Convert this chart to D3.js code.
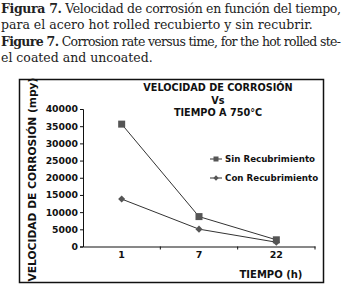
<!DOCTYPE html>
<html>
<head>
<meta charset="utf-8">
<script src="https://cdn.jsdelivr.net/npm/d3@7"></script>
<style>
  body { margin: 0; background: #fff; }
  svg { display: block; }
</style>
</head>
<body>
<script>
const tiempos = ['1', '7', '22'];
const sinRecub = [35600, 8700, 1950];
const conRecub = [13800, 5050, 1250];
const yTicks = [0, 5000, 10000, 15000, 20000, 25000, 30000, 35000, 40000];
const seriesNames = ['Sin Recubrimiento', 'Con Recubrimiento'];
const captionLines = [
  {b: 'Figura 7.', t: ' Velocidad de corrosión en función del tiempo,', full: true},
  {b: '', t: 'para el acero hot rolled recubierto y sin recubrir.', full: false},
  {b: 'Figure 7.', t: ' Corrosion rate versus time, for the hot rolled ste-', full: true},
  {b: '', t: 'el coated and uncoated.', full: false}
];

const w = 343, h = 288;
const svg = d3.select('body').append('svg').attr('width', w).attr('height', h);

// caption
captionLines.forEach(function(l, i) {
  const t = svg.append('text')
    .attr('x', 1).attr('y', 13 + i * 16.3)
    .style('font-family', '"DejaVu Serif", serif')
    .style('font-size', '12.5px')
    .style('fill', '#222');
  if (l.full) t.attr('textLength', 340).attr('lengthAdjust', 'spacing');
  if (l.b) t.append('tspan').style('font-weight', 'bold').text(l.b);
  t.append('tspan').text(l.t);
});

// chart frame
svg.append('rect')
  .attr('x', 19.5).attr('y', 79.5).attr('width', 304).attr('height', 203)
  .attr('fill', 'none').attr('stroke', '#111').attr('stroke-width', 1.5);

const bold = '"DejaVu Sans", Verdana, sans-serif';
const pLeft = 83, pRight = 315, pTop = 109, pBottom = 246.5;

const x = d3.scaleBand().domain(tiempos).range([pLeft, pRight]);
const y = d3.scaleLinear().domain([0, 40000]).range([pBottom, pTop]);

const yAxis = svg.append('g')
  .attr('transform', 'translate(' + pLeft + ',0)')
  .call(d3.axisLeft(y).tickValues(yTicks).tickSize(3).tickPadding(2).tickFormat(d3.format('d')));
yAxis.selectAll('text').style('font-family', bold).style('font-weight', 'bold').style('font-size', '9.3px').attr('fill', '#111');
yAxis.selectAll('line, path').attr('stroke', '#111');

const xAxis = svg.append('g')
  .attr('transform', 'translate(0,' + pBottom + ')')
  .call(d3.axisBottom(x).tickSize(0).tickPadding(5));
xAxis.selectAll('text').style('font-family', bold).style('font-weight', 'bold').style('font-size', '9.5px').attr('fill', '#111');
xAxis.select('path').attr('stroke', '#111');
// boundary ticks between categories
const bounds = tiempos.map(function(d) { return x(d); }).concat([x.range()[1]]).slice(1);
xAxis.selectAll('.bt').data(bounds).enter().append('line')
  .attr('x1', function(d) { return d; }).attr('x2', function(d) { return d; })
  .attr('y1', 0).attr('y2', 3).attr('stroke', '#111');

const cx = function(d, i) { return x(tiempos[i]) + x.bandwidth() / 2; };
const line = d3.line().x(cx).y(function(d) { return y(d); });

[sinRecub, conRecub].forEach(function(s) {
  svg.append('path').attr('d', line(s)).attr('fill', 'none').attr('stroke', '#333').attr('stroke-width', 1);
});
svg.selectAll('.sq').data(sinRecub).enter().append('rect')
  .attr('x', function(d, i) { return cx(d, i) - 3.5; })
  .attr('y', function(d) { return y(d) - 3.5; })
  .attr('width', 7).attr('height', 7).attr('fill', '#555');
const diamond = d3.symbol().type(d3.symbolDiamond2).size(32);
svg.selectAll('.dm').data(conRecub).enter().append('path')
  .attr('d', diamond)
  .attr('transform', function(d, i) { return 'translate(' + cx(d, i) + ',' + y(d) + ')'; })
  .attr('fill', '#555');

// title
['VELOCIDAD DE CORROSIÓN', 'Vs', 'TIEMPO A 750°C'].forEach(function(t, i) {
  svg.append('text').attr('x', 218).attr('y', 91 + i * 12.5)
    .attr('text-anchor', 'middle')
    .style('font-family', bold).style('font-weight', 'bold').style('font-size', '9.7px')
    .attr('fill', '#111').text(t);
});

// legend
seriesNames.forEach(function(n, i) {
  const ly = 159 + i * 19;
  svg.append('line').attr('x1', 210).attr('x2', 222).attr('y1', ly).attr('y2', ly).attr('stroke', '#333');
  if (i === 0) {
    svg.append('rect').attr('x', 213.5).attr('y', ly - 2.5).attr('width', 5).attr('height', 5).attr('fill', '#555');
  } else {
    svg.append('path').attr('d', d3.symbol().type(d3.symbolDiamond2).size(18))
      .attr('transform', 'translate(216,' + ly + ')').attr('fill', '#555');
  }
  svg.append('text').attr('x', 225).attr('y', ly + 3)
    .style('font-family', bold).style('font-weight', 'bold').style('font-size', '8.7px')
    .attr('fill', '#111').text(n);
});

// axis titles
svg.append('text').attr('transform', 'translate(35.5,179.5) rotate(-90)')
  .attr('text-anchor', 'middle')
  .style('font-family', bold).style('font-weight', 'bold').style('font-size', '10.7px')
  .attr('fill', '#111').text('VELOCIDAD DE CORROSIÓN (mpy)');
svg.append('text').attr('x', 271).attr('y', 277.5)
  .attr('text-anchor', 'middle')
  .style('font-family', bold).style('font-weight', 'bold').style('font-size', '10px')
  .attr('fill', '#111').text('TIEMPO (h)');
</script>
</body>
</html>
